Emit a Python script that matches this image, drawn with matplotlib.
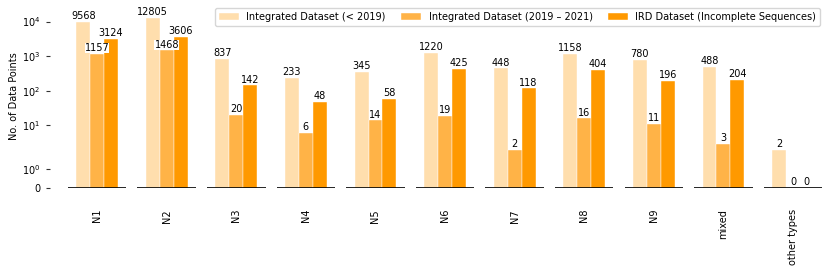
import numpy as np
import matplotlib
matplotlib.use("Agg")
import matplotlib.pyplot as plt

categories = ["N1", "N2", "N3", "N4", "N5", "N6", "N7", "N8", "N9", "mixed", "other types"]
before_2019 = [9568, 12805, 837, 233, 345, 1220, 448, 1158, 780, 488, 2]
from_2019_2021 = [1157, 1468, 20, 6, 14, 19, 2, 16, 11, 3, 0]
ird_incomplete = [3124, 3606, 142, 48, 58, 425, 118, 404, 196, 204, 0]

series = [
    ("Integrated Dataset (< 2019)", before_2019, "#FFDEAD"),
    ("Integrated Dataset (2019 \u2013 2021)", from_2019_2021, "#FFB347"),
    ("IRD Dataset (Incomplete Sequences)", ird_incomplete, "#FF9900"),
]

fig = plt.figure(figsize=(8.3, 2.77), dpi=100)
ax = fig.add_axes([0.06, 0.321, 0.934, 0.661])

x = np.arange(len(categories))
w = 0.2
for k, (name, vals, col) in enumerate(series):
    bars = ax.bar(x + (k - 1) * w, vals, w, color=col, label=name,
                  edgecolor="white", linewidth=0.3)
    ax.bar_label(bars, fontsize=7, padding=0.5,
                 bbox=dict(facecolor="white", edgecolor="none", pad=0))

# black baseline under each group
ax.hlines(np.zeros(len(x)), x - 0.42, x + 0.42, color="black", lw=1.2, zorder=3)

ax.set_yscale("symlog", linthresh=2, linscale=1)
ax.set_ylim(0, 30000)
ax.set_xlim(-0.68, 10.46)
ax.set_yticks([0, 1, 10, 100, 1000, 10000],
              ["0", r"$10^0$", r"$10^1$", r"$10^2$", r"$10^3$", r"$10^4$"])
ax.yaxis.set_minor_locator(matplotlib.ticker.NullLocator())
ax.set_xticks(x, categories, rotation=90)
ax.tick_params(axis="x", length=0, pad=15, labelsize=7)
ax.tick_params(axis="y", length=3, width=0.8, pad=4, labelsize=7, color="#333333")
for s in ax.spines.values():
    s.set_visible(False)

ax.set_ylabel("No. of Data Points", fontsize=7, labelpad=2)
ax.legend(loc="upper right", ncol=3, fontsize=7, bbox_to_anchor=(1.0, 1.01),
          columnspacing=1.6)

fig.savefig("out.png", dpi=100)
